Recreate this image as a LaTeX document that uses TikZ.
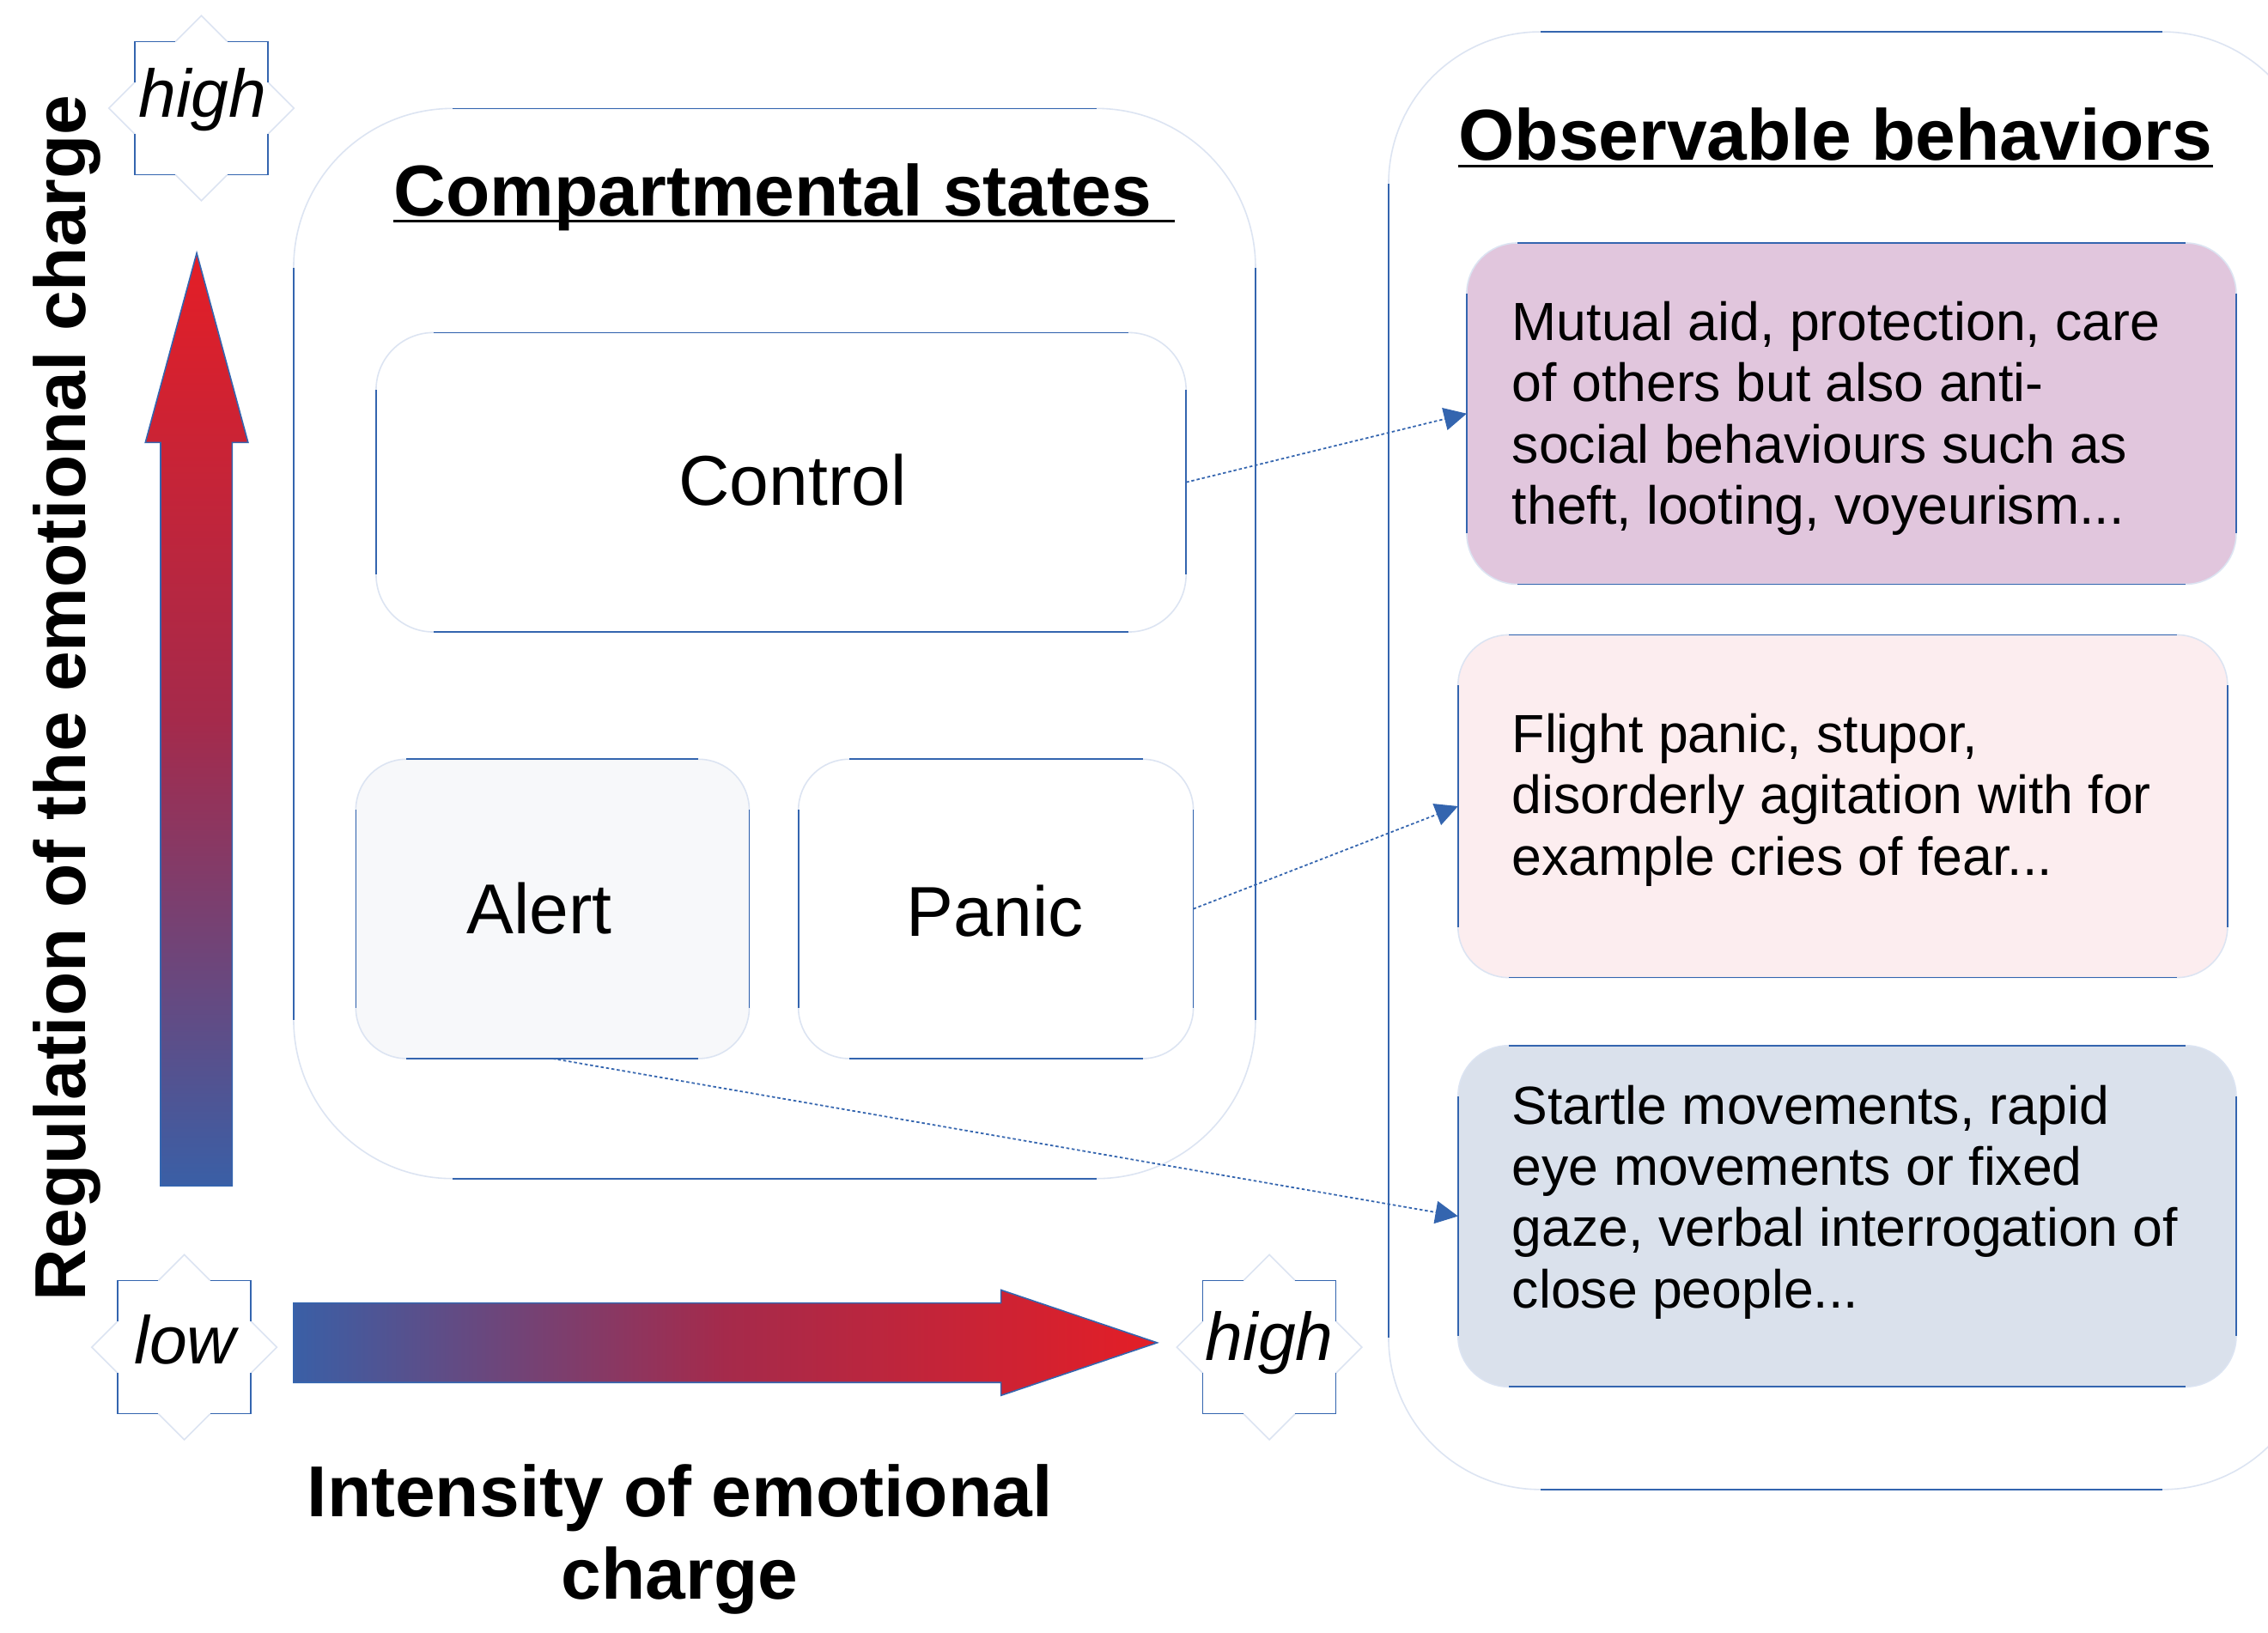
\documentclass[tikz,border=0pt]{standalone}
\usepackage{fontspec}
\setmainfont{Liberation Sans}
\usetikzlibrary{fit,arrows.meta}
\definecolor{rimblue}{HTML}{3465AF}
\definecolor{faintblue}{HTML}{DCE4F2}
\definecolor{arrowblue}{HTML}{3A5FA6}
\definecolor{arrowred}{HTML}{E41E26}
\definecolor{arrowmid}{HTML}{A52A4B}
\definecolor{fillA}{HTML}{E1C6DD}
\definecolor{fillB}{HTML}{FCEDEF}
\definecolor{fillC}{HTML}{DAE1EC}
\definecolor{fillAlert}{HTML}{F7F8FA}
\tikzset{
  frame/.style={draw=faintblue, line width=0.45pt, inner sep=0pt, outer sep=0pt, rounded corners=#1},
  rim/.style={draw=rimblue, line width=0.45pt},
  statetext/.style={font=\fontsize{23.4pt}{26pt}\selectfont, inner sep=0pt},
  bodytext/.style={font=\fontsize{17.8pt}{20.3pt}\selectfont, align=left, inner sep=0pt, anchor=north west},
  titletext/.style={font=\fontsize{23.9pt}{27.3pt}\selectfont\bfseries, inner sep=0pt},
  axislabel/.style={font=\fontsize{22.4pt}{26pt}\selectfont\itshape, inner sep=0pt, anchor=base},
  underl/.style={line width=0.8pt, black},
  conn/.style={draw=rimblue, line width=0.5pt, dash pattern=on 1pt off 0.8pt, -{Triangle[length=7.5pt,width=7.5pt]}},
  bigarrow/.style={draw=rimblue, line width=0.45pt},
}
\newcommand\rimof[2]{%
  \draw[rim] ([xshift=#2]#1.north west) -- ([xshift=-#2]#1.north east)
             ([xshift=#2]#1.south west) -- ([xshift=-#2]#1.south east)
             ([yshift=-#2]#1.north west) -- ([yshift=#2]#1.south west)
             ([yshift=-#2]#1.north east) -- ([yshift=#2]#1.south east);}
\newcommand\starframe[2]{%
  \begin{scope}[shift={(#1,#2)}]
    \fill[white] (0,-64) -- (18,-46) -- (46,-46) -- (46,-18) -- (64,0) -- (46,18) -- (46,46) -- (18,46)
      -- (0,64) -- (-18,46) -- (-46,46) -- (-46,18) -- (-64,0) -- (-46,-18) -- (-46,-46) -- (-18,-46) -- cycle;
    \draw[faintblue, line width=0.45pt] (18,-46) -- (0,-64) -- (-18,-46) (46,-18) -- (64,0) -- (46,18)
      (18,46) -- (0,64) -- (-18,46) (-46,-18) -- (-64,0) -- (-46,18);
    \draw[rim] (18,-46) -- (46,-46) -- (46,-18) (46,18) -- (46,46) -- (18,46)
      (-18,46) -- (-46,46) -- (-46,18) (-46,-18) -- (-46,-46) -- (-18,-46);
  \end{scope}}
\begin{document}
\begin{tikzpicture}[x=0.016843cm, y=-0.016843cm]
\useasboundingbox (0,0) rectangle (1568,1129);
\fill[white] (0,0) rectangle (1568,1129);

% outer frames
\node[frame=52.7pt, fit={(203,75) (868,815)}] (states) {};
\rimof{states}{52.7pt}
\node[frame=50.3pt, fit={(960,22) (1600,1030)}] (behav) {};
\rimof{behav}{50.3pt}

% titles
\node[titletext, anchor=base west] (tstates) at (272,149.5) {Compartmental states};
\draw[underl] (272,153) -- (812,153);
\node[titletext, anchor=base west] (tbehav) at (1008,111) {Observable behaviors};
\draw[underl] (1008,115) -- (1530,115);

% state boxes
\node[frame=19pt, fit={(260,230) (820,437)}] (control) {};
\rimof{control}{19pt}
\node[statetext] (controltext) at (548,332) {Control};
\node[frame=16.8pt, fill=fillAlert, fit={(246,525) (518,732)}] (alert) {};
\rimof{alert}{16.8pt}
\node[statetext] (alerttext) at (373,628) {Alert};
\node[frame=16.8pt, fit={(552,525) (825,732)}] (panic) {};
\rimof{panic}{16.8pt}
\node[statetext] (panictext) at (688,630) {Panic};

% behaviour boxes
\node[frame=16.8pt, fill=fillA, fit={(1014,168) (1546,404)}] (boxA) {};
\rimof{boxA}{16.8pt}
\node[frame=16.8pt, fill=fillB, fit={(1008,439) (1540,676)}] (boxB) {};
\rimof{boxB}{16.8pt}
\node[frame=16.8pt, fill=fillC, fit={(1008,723) (1546,959)}] (boxC) {};
\rimof{boxC}{16.8pt}

\node[bodytext] (textA) at (1045,208) {Mutual aid, protection, care\\of others but also anti-\\social behaviours such as\\theft, looting, voyeurism...};
\node[bodytext] (textB) at (1045,493) {Flight panic, stupor,\\disorderly agitation with for\\example cries of fear...};
\node[bodytext] (textC) at (1045,750) {Startle movements, rapid\\eye movements or fixed\\gaze, verbal interrogation of\\close people...};

% connectors
\draw[conn] (control.east) -- (boxA.west);
\draw[conn] (panic.east) -- (boxB.west);
\draw[conn] (alert.south) -- (boxC.west);

% gradient arrows
\shadedraw[bigarrow, bottom color=arrowblue, top color=arrowred, middle color=arrowmid]
  (111,820) -- (111,306) -- (100.5,306) -- (136,175) -- (171.5,306) -- (160.5,306) -- (160.5,820) -- cycle;
\shadedraw[bigarrow, left color=arrowblue, right color=arrowred, middle color=arrowmid]
  (203,901) -- (692,901) -- (692,892) -- (800,928.5) -- (692,965) -- (692,956) -- (203,956) -- cycle;

% stars with labels
\starframe{139.2}{74.8}
\node[axislabel] (hightop) at (140,81) {high};
\starframe{127.4}{931.6}
\node[axislabel] (low) at (128,943) {low};
\starframe{877.6}{931.6}
\node[axislabel] (highright) at (877.6,941) {high};

% axis titles
\node[titletext, rotate=90, anchor=base] (regul) at (59,482.5) {Regulation of the emotional charge};
\node[titletext, align=center, anchor=north] (intens) at (470,1012) {Intensity of emotional\\charge};
\end{tikzpicture}
\end{document}
